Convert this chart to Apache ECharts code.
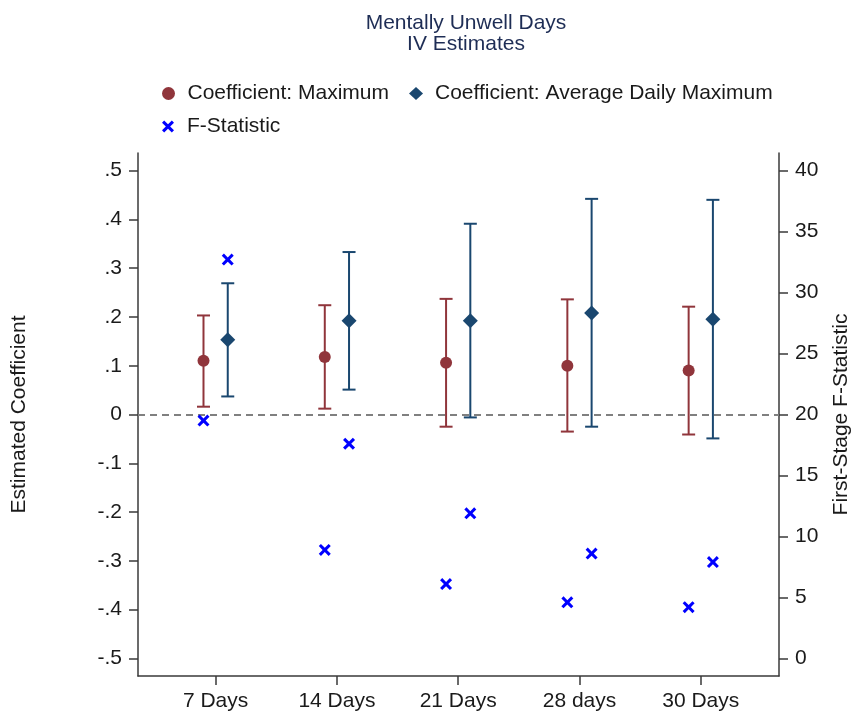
<!DOCTYPE html>
<html>
<head>
<meta charset="utf-8">
<script src="https://cdn.jsdelivr.net/npm/echarts@6/dist/echarts.min.js"></script>
<style>html,body{margin:0;padding:0;background:#fff}#c{width:851px;height:720px}</style>
</head>
<body>
<div id="c"></div>
<script>
// ---- data ----
var categories = ['7 Days', '14 Days', '21 Days', '28 days', '30 Days'];
var maxCoef = [0.110, 0.118, 0.106, 0.100, 0.090];
var maxLo   = [0.016, 0.012, -0.025, -0.035, -0.041];
var maxHi   = [0.203, 0.224, 0.237, 0.236, 0.221];
var avgCoef = [0.153, 0.192, 0.192, 0.208, 0.195];
var avgLo   = [0.037, 0.051, -0.006, -0.025, -0.049];
var avgHi   = [0.269, 0.333, 0.391, 0.442, 0.440];
var fMax    = [19.5, 8.9, 6.1, 4.6, 4.2];
var fAvg    = [32.7, 17.6, 11.9, 8.6, 7.9];
var leftTicks  = [-0.5, -0.4, -0.3, -0.2, -0.1, 0, 0.1, 0.2, 0.3, 0.4, 0.5];
var rightTicks = [0, 5, 10, 15, 20, 25, 30, 35, 40];

// ---- layout constants ----
var OFFSET = 0.1;
var RED = '#90353b', NAVY = '#1a476f', BLUE = '#0000ff';
var FONT = 'Liberation Sans, Arial, sans-serif';
var XMARK = 'path://M0,1.8 L1.8,0 L5,3.2 L8.2,0 L10,1.8 L6.8,5 L10,8.2 L8.2,10 L5,6.8 L1.8,10 L0,8.2 L3.2,5 Z';

var xPos = categories.map(function (c, i) { return i + 1; });
function pts(arr, off) { return arr.map(function (v, i) { return [xPos[i] + off, v]; }); }
function bars(lo, hi, off) { return lo.map(function (v, i) { return [xPos[i] + off, v, hi[i]]; }); }

function errRender(color) {
  return function (params, api) {
    var x = api.value(0);
    var a = api.coord([x, api.value(1)]);
    var b = api.coord([x, api.value(2)]);
    var hw = 6.5;
    var st = { stroke: color, lineWidth: 2 };
    return {
      type: 'group',
      children: [
        { type: 'line', shape: { x1: a[0], y1: a[1], x2: b[0], y2: b[1] }, style: st },
        { type: 'line', shape: { x1: a[0] - hw, y1: a[1], x2: a[0] + hw, y2: a[1] }, style: st },
        { type: 'line', shape: { x1: b[0] - hw, y1: b[1], x2: b[0] + hw, y2: b[1] }, style: st }
      ]
    };
  };
}

function fmtLeft(v) {
  var r = Math.round(v * 10) / 10;
  if (r === 0) return '0';
  return r.toString().replace('0.', '.');
}

var chart = echarts.init(document.getElementById('c'), null, { renderer: 'canvas' });
var axisLineStyle = { color: '#3a3a3a', width: 1.5 };
var labelStyle = { color: '#1a1a1a', fontSize: 21, fontFamily: FONT };

chart.setOption({
  animation: false,
  backgroundColor: '#ffffff',
  textStyle: { fontFamily: FONT },
  title: {
    text: 'Mentally Unwell Days\nIV Estimates',
    left: 461, top: 8, textAlign: 'center',
    textStyle: { fontSize: 21, fontWeight: 'normal', color: '#1e2d55', fontFamily: FONT, lineHeight: 21 }
  },
  legend: [
    {
      data: ['Coefficient: Maximum', 'Coefficient: Average Daily Maximum'],
      left: 157, top: 78, itemWidth: 14, itemHeight: 13, itemGap: 20,
      selectedMode: false,
      textStyle: { fontSize: 21, color: '#1a1a1a', fontFamily: FONT, padding: [0, 0, 0, 7] }
    },
    {
      data: ['F-Statistic'],
      left: 157, top: 111, itemWidth: 14, itemHeight: 12,
      selectedMode: false,
      textStyle: { fontSize: 21, color: '#1a1a1a', fontFamily: FONT, padding: [0, 0, 0, 7] }
    }
  ],
  grid: { left: 138, right: 72, top: 153, bottom: 44, containLabel: false, outerBoundsMode: 'none' },
  xAxis: {
    type: 'value', min: 0.36, max: 5.645,
    axisLine: { show: true, onZero: false, lineStyle: axisLineStyle },
    axisTick: { show: true, length: 9, lineStyle: axisLineStyle, customValues: xPos },
    axisLabel: Object.assign({ margin: 15, customValues: xPos,
      formatter: function (v) { return categories[Math.round(v) - 1]; } }, labelStyle),
    splitLine: { show: false }
  },
  yAxis: [
    {
      type: 'value', min: -0.536, max: 0.536, position: 'left',
      name: 'Estimated Coefficient', nameLocation: 'middle', nameGap: 108, nameRotate: 90,
      nameTextStyle: { fontSize: 21, color: '#1a1a1a', fontFamily: FONT },
      axisLine: { show: true, onZero: false, lineStyle: axisLineStyle },
      axisTick: { show: true, length: 9, lineStyle: axisLineStyle, customValues: leftTicks },
      axisLabel: Object.assign({ margin: 16, customValues: leftTicks, formatter: fmtLeft }, labelStyle),
      splitLine: { show: false }
    },
    {
      type: 'value', min: -1.44, max: 41.44, position: 'right', alignTicks: false,
      name: 'First-Stage F-Statistic', nameLocation: 'middle', nameGap: 52, nameRotate: 90,
      nameTextStyle: { fontSize: 21, color: '#1a1a1a', fontFamily: FONT },
      axisLine: { show: true, onZero: false, lineStyle: axisLineStyle },
      axisTick: { show: true, length: 9, lineStyle: axisLineStyle, customValues: rightTicks },
      axisLabel: Object.assign({ margin: 16, customValues: rightTicks }, labelStyle),
      splitLine: { show: false }
    }
  ],
  series: [
    {
      type: 'custom', name: 'maxErr', yAxisIndex: 0, z: 3,
      renderItem: errRender(RED), data: bars(maxLo, maxHi, -OFFSET),
      encode: { x: 0, y: [1, 2] }, silent: true
    },
    {
      type: 'custom', name: 'avgErr', yAxisIndex: 0, z: 3,
      renderItem: errRender(NAVY), data: bars(avgLo, avgHi, OFFSET),
      encode: { x: 0, y: [1, 2] }, silent: true
    },
    {
      type: 'scatter', name: 'Coefficient: Maximum', yAxisIndex: 0, z: 4,
      symbol: 'circle', symbolSize: 12, itemStyle: { color: RED, opacity: 1 },
      data: pts(maxCoef, -OFFSET),
      markLine: {
        silent: true, symbol: 'none', label: { show: false }, z: 1,
        lineStyle: { color: '#808080', type: [7, 5], width: 2 },
        data: [{ yAxis: 0 }]
      }
    },
    {
      type: 'scatter', name: 'Coefficient: Average Daily Maximum', yAxisIndex: 0, z: 4,
      symbol: 'diamond', symbolSize: [15, 15], itemStyle: { color: NAVY, opacity: 1 },
      data: pts(avgCoef, OFFSET)
    },
    {
      type: 'scatter', name: 'F-Statistic', yAxisIndex: 1, z: 5,
      symbol: XMARK, symbolSize: 12, itemStyle: { color: BLUE, opacity: 1 },
      data: pts(fMax, -OFFSET).concat(pts(fAvg, OFFSET))
    }
  ]
});
</script>
</body>
</html>
